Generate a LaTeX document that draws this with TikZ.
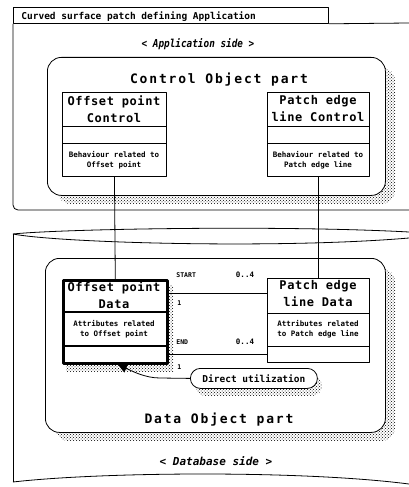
\documentclass[tikz,border=0pt]{standalone}
\usepackage{fontspec}
\usepackage{graphicx}
\setmainfont{DejaVu Sans Mono}
\newfontfamily\widemono[LetterSpace=14]{DejaVu Sans Mono}
\newfontfamily\midmono[LetterSpace=5]{DejaVu Sans Mono}
\usetikzlibrary{patterns,arrows.meta}
\tikzset{
  dotshadow/.style={pattern=crosshatch dots, pattern color=black},
  frame/.style={draw, fill=white, anchor=north west, inner sep=0pt},
  part/.style={frame, rounded corners=14},
  cls/.style={frame, line width=0.9pt},
  clsbold/.style={frame, line width=2.6pt},
  hdr/.style={font=\fontsize{12}{17}\midmono\bfseries, align=center, inner sep=0pt},
  small/.style={font=\fontsize{7.5}{10}\selectfont\bfseries, align=center, inner sep=0pt},
  parttitle/.style={font=\fontsize{13}{15}\widemono\bfseries, inner sep=0pt},
  side/.style={font=\fontsize{11}{13}\selectfont\bfseries\itshape, inner sep=0pt},
  lbl/.style={font=\fontsize{6.5}{8}\selectfont\bfseries, inner sep=0pt},
  num/.style={font=\fontsize{7.5}{8}\selectfont\bfseries, inner sep=0pt},
  pill/.style={draw, fill=white, rounded corners=10, anchor=north west, inner sep=0pt},
}
\begin{document}
\begin{tikzpicture}[x=1pt, y=-1pt, line width=0.8pt, line join=round]
\useasboundingbox (0,0) rectangle (409,487);

% ---------- application side ----------
\node[frame, minimum width=315, minimum height=16] (tab) at (13,7) {};
\node[anchor=base west, font=\fontsize{9.5}{11}\selectfont\bfseries, inner sep=0pt] (tabt) at (21,19.5) {Curved surface patch defining Application};
\draw (tab.south east) -- (409,23);
\draw[rounded corners=5] (tab.south west) -- (13,210) -- (409,210);
\node[side, anchor=base] (appside) at (198,48) {\scalebox{0.85}[1]{< Application side >}};

\fill[dotshadow, rounded corners=14] (57,67) rectangle (395,204);
\node[part, minimum width=338, minimum height=138] (COP) at (47,57) {};
\node[parttitle, anchor=base] (COPt) at (219,83) {Control Object part};

\node[cls, minimum width=104, minimum height=84] (OC) at (62,92) {};
\draw (OC.west |- 0,126) -- (OC.east |- 0,126);
\draw (OC.west |- 0,143) -- (OC.east |- 0,143);
\node[hdr] (OCt) at (114,109) {Offset point\\Control};
\node[small] (OCb) at (114,160) {Behaviour related to\\Offset point};

\node[cls, minimum width=102, minimum height=84] (PC) at (267,92) {};
\draw (PC.west |- 0,126) -- (PC.east |- 0,126);
\draw (PC.west |- 0,143) -- (PC.east |- 0,143);
\node[hdr] (PCt) at (318,109) {Patch edge\\line Control};
\node[small] (PCb) at (318,160) {Behaviour related to\\Patch edge line};

% ---------- database side ----------
\draw (13,482) -- (13,234);
\draw (13,234) .. controls (60,229) and (280,225) .. (409,232);
\draw (13,234) .. controls (60,243) and (280,249) .. (409,238);
\draw (13,482) .. controls (100,472) and (300,470) .. (409,484);
\node[side, anchor=base] (dbside) at (216,465) {< Database side >};

\fill[dotshadow, rounded corners=14] (55,268) rectangle (395,441);
\node[part, minimum width=340, minimum height=174] (DOP) at (45,258) {};
\node[parttitle, anchor=base] (DOPt) at (219,423) {Data Object part};

\fill[dotshadow] (66,285) rectangle (173,371);
\node[clsbold, minimum width=104, minimum height=83] (OD) at (62,279) {};
\draw[line width=2.6pt] (OD.west |- 0,312) -- (OD.east |- 0,312);
\draw[line width=2.6pt] (OD.west |- 0,346) -- (OD.east |- 0,346);
\node[hdr] (ODt) at (114,295) {Offset point\\Data};
\node[small] (ODa) at (114,329) {Attributes related\\to Offset point};

\node[cls, minimum width=102, minimum height=84] (PD) at (267,278) {};
\draw (PD.west |- 0,313) -- (PD.east |- 0,313);
\draw (PD.west |- 0,346) -- (PD.east |- 0,346);
\node[hdr] (PDt) at (318,294) {Patch edge\\line Data};
\node[small] (PDa) at (318,329) {Attributes related\\to Patch edge line};

% associations
\draw (OD.east |- 0,293) -- (PD.west |- 0,293);
\draw (OD.east |- 0,354) -- (PD.west |- 0,354);
\node[lbl, anchor=west] (st) at (176,275) {START};
\node[num] (m1) at (245,275) {0..4};
\node[lbl, anchor=west] (o1) at (177,303) {1};
\node[lbl, anchor=west] (en) at (176,342) {END};
\node[num] (m2) at (245,342) {0..4};
\node[lbl, anchor=west] (o2) at (177,367) {1};

% direct utilization
\fill[dotshadow, rounded corners=10] (196,376) rectangle (322,396);
\node[pill, minimum width=127, minimum height=20] (du) at (190,368) {};
\node[font=\fontsize{9.5}{11}\selectfont\bfseries, inner sep=0pt] (dut) at (du.center) {Direct utilization};
\draw[-{Triangle[length=9pt,width=9pt]}] (du.west) -- (160,378) .. controls (145,378) and (132,371) .. (OD.south -| 118,0);

% vertical connectors
\draw (OC.south) -- (OD.north);
\draw (PC.south) -- (PD.north);
\end{tikzpicture}
\end{document}
